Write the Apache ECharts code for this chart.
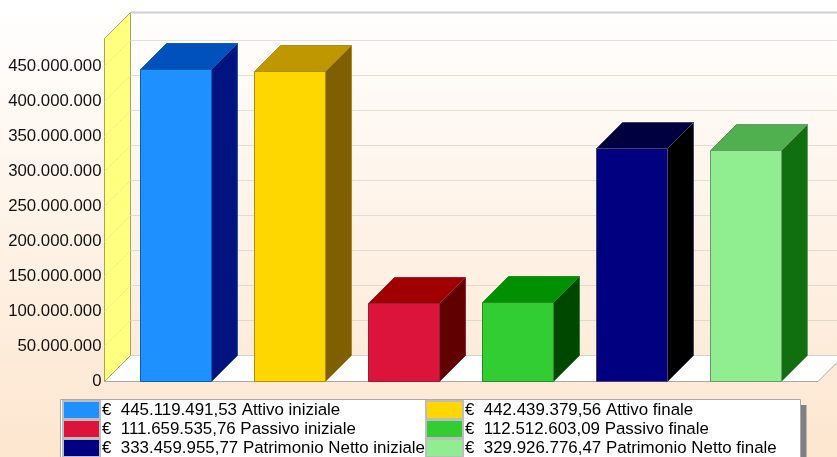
<!DOCTYPE html>
<html><head><meta charset="utf-8">
<style>html,body{margin:0;padding:0;background:#fff}#c{width:837px;height:457px}</style>
<script src="https://cdn.jsdelivr.net/npm/echarts@6/dist/echarts.min.js"></script>
</head><body><div id="c"></div>
<script>
const names=['Attivo iniziale','Passivo iniziale','Patrimonio Netto iniziale','Attivo finale','Passivo finale','Patrimonio Netto finale'];
const values=[445119491.53,111659535.76,333459955.77,442439379.56,112512603.09,329926776.47];
const valueLabels=['445.119.491,53','111.659.535,76','333.459.955,77','442.439.379,56','112.512.603,09','329.926.776,47'];
const slots=[0,2,4,1,3,5];
const front=['#1E90FF','#DC143C','#000080','#FFD700','#32CD32','#90EE90'];
const top_=['#0050BE','#A00000','#000040','#BF9700','#009000','#50B050'];
const side=['#00137F','#600000','#000000','#7F5F00','#004800','#107010'];
const edge=['#0F5FA8','#96203A','#44446A','#A8901A','#2A8A2A','#6A9A6A'];
const ticks=[0,50e6,100e6,150e6,200e6,250e6,300e6,350e6,400e6,450e6];
const yMax=490e6;
const DX=26,DY=26,barUnits=71/114;
const fmt=v=>String(Math.round(v)).replace(/\B(?=(\d{3})+$)/g,'.');
const poly=(pts,fill,stroke,lw)=>({type:'polygon',shape:{points:pts},style:{fill:fill,stroke:stroke||null,lineWidth:lw||0}});
const dot=(a,b,c)=>({type:'line',shape:{x1:a[0],y1:a[1],x2:b[0],y2:b[1]},style:{stroke:c||'#c8c2ba',lineWidth:1,lineDash:[1,1],fill:null}});

const wallSeries={type:'custom',name:'walls',silent:true,z:1,clip:false,data:ticks.map(t=>[t]),encode:{y:0},
 renderItem(p,api){
  const t=api.value(0),cs=p.coordSys;
  const L=cs.x+0.5,R=cs.x+cs.width;
  const y=Math.floor(api.coord([0,t])[1])+0.5;
  const kids=[];
  if(t===0){
   const T=cs.y+0.5,B=cs.y+cs.height+0.5;
   kids.push(poly([[L,B],[L+DX,B-DY],[R+DX,B-DY],[R,B]],'#ffffff'));
   kids.push(dot([L+DX,B-DY],[R+DX,B-DY],'#b0aaa4'));
   kids.push(poly([[L,T],[L+DX,T-DY],[L+DX,B-DY],[L,B]],'#FFFF80','#A5A55A',1));
   kids.push({type:'line',shape:{x1:L,y1:B,x2:R,y2:B},style:{stroke:'#a8a8a8',lineWidth:1}});
   kids.push({type:'line',shape:{x1:R,y1:B,x2:R+DX,y2:B-DY},style:{stroke:'#a8a8a8',lineWidth:1}});
   kids.push({type:'line',shape:{x1:L+DX,y1:T-DY,x2:R+DX,y2:T-DY},style:{stroke:'#cfcfcf',lineWidth:2}});
  } else {
   kids.push(dot([L+DX,y-DY],[R+DX,y-DY]));
   kids.push(dot([L,y],[L+DX,y-DY],'#e2e29a'));
  }
  return {type:'group',children:kids};
 }};

const barSeries=names.map((n,s)=>({type:'custom',name:n,z:2,clip:false,
 itemStyle:{color:front[s],borderColor:'#bdbdbd',borderWidth:1},
 data:[[slots[s],values[s]]],encode:{x:0,y:1},
 renderItem(p,api){
  const a=api.coord([api.value(0),api.value(1)]);
  const b=api.coord([api.value(0),0]);
  const w=api.size([barUnits,0])[0];
  const x0=Math.floor(a[0]-w/2)+0.5,x1=x0+Math.round(w),yT=Math.round(a[1])+0.5,yB=b[1]+0.5,e=edge[s];
  return {type:'group',children:[
   poly([[x0,yT],[x0+DX,yT-DY],[x1+DX,yT-DY],[x1,yT]],top_[s],e,1),
   poly([[x1,yT],[x1+DX,yT-DY],[x1+DX,yB-DY],[x1,yB]],side[s],e,1),
   poly([[x0,yT],[x1,yT],[x1,yB],[x0,yB]],front[s],e,1)
  ]};
 }}));

const legendBase={orient:'vertical',padding:0,itemWidth:37,itemHeight:18,itemGap:-1,icon:'rect',height:100,
 selectedMode:false,z:10,
 textStyle:{fontFamily:'Liberation Sans',fontSize:16.9,lineHeight:18,color:'#000',padding:[0,0,0,-3]},
 formatter:n=>'€  '+valueLabels[names.indexOf(n)]+' '+n};

const chart=echarts.init(document.getElementById('c'),null,{renderer:'canvas'});
chart.setOption({
 animation:false,
 backgroundColor:new echarts.graphic.LinearGradient(0,0,0,1,[{offset:0,color:'#ffffff'},{offset:1,color:'#FDE6CF'}]),
 grid:{left:104,right:19,top:38,bottom:76},
 xAxis:{type:'value',min:-0.632,max:5.632,show:false},
 yAxis:{type:'value',min:0,max:yMax,interval:50e6,
  axisLine:{show:false},axisTick:{show:false},splitLine:{show:false},
  axisLabel:{show:true,showMaxLabel:false,margin:2.5,padding:[2,0,0,0],fontFamily:'Liberation Sans',fontSize:16.8,color:'#111',formatter:fmt}},
 legend:[
  Object.assign({},legendBase,{left:62,top:400,data:names.slice(0,3)}),
  Object.assign({},legendBase,{left:425,top:400,data:names.slice(3)})
 ],
 graphic:[
  {type:'rect',z:5,shape:{x:801,y:405,width:5.5,height:60},style:{fill:'#808080'}},
  {type:'rect',z:5,shape:{x:60.5,y:399.5,width:740,height:70},style:{fill:'#fff',stroke:'#a8a8a8',lineWidth:1}}
 ],
 series:[wallSeries].concat(barSeries)
});
</script></body></html>
